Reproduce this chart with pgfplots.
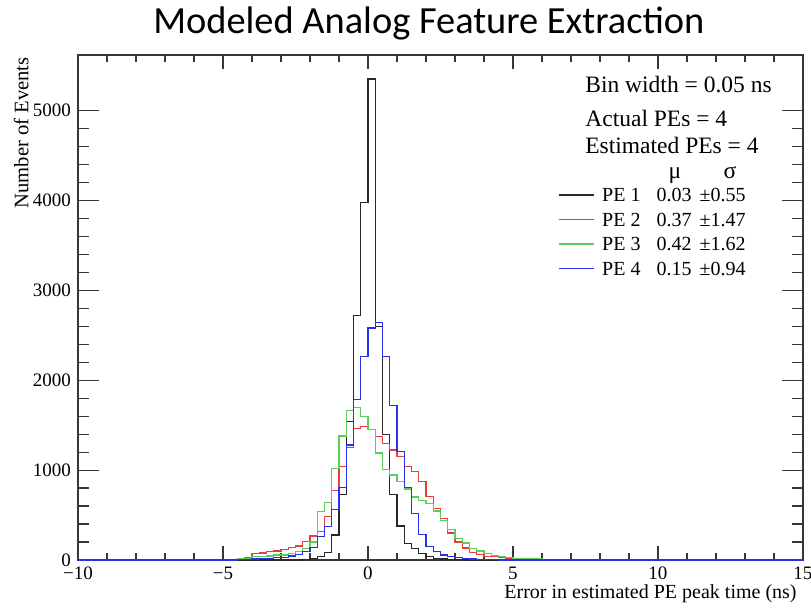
\documentclass[border=0pt]{standalone}
\usepackage{pgfplots}
\usepackage{pgfplotstable}
\pgfplotsset{compat=1.18}
\usepackage{fontspec}
\setmainfont{Liberation Serif}
\newfontfamily\titlefont{Carlito}
\definecolor{hblack}{RGB}{40,40,40}
\definecolor{hred}{RGB}{235,60,60}
\definecolor{hgreen}{RGB}{90,205,90}
\definecolor{hblue}{RGB}{40,50,235}
\definecolor{axgray}{RGB}{55,55,55}

% bins of 0.25 ns, x = left edge of bin
\pgfplotstableread{
x y
-10 0
-2.25 8
-2.0 20
-1.75 40
-1.5 85
-1.25 278
-1.0 730
-0.75 1540
-0.5 2717
-0.25 3975
0 5353
0.25 2598
0.5 1400
0.75 730
1.0 378
1.25 186
1.5 130
1.75 74
2.0 37
2.25 20
2.5 12
2.75 6
3.0 3
3.25 0
15 0
}\peone

\pgfplotstableread{
x y
-10 0
-4.75 8
-4.5 15
-4.25 30
-4.0 74
-3.75 78
-3.5 93
-3.25 100
-3.0 119
-2.75 137
-2.5 156
-2.25 204
-2.0 267
-1.75 316
-1.5 482
-1.25 772
-1.0 1039
-0.75 1250
-0.5 1460
-0.25 1485
0 1450
0.25 1375
0.5 1300
0.75 1225
1.0 1150
1.25 1040
1.5 983
1.75 872
2.0 710
2.25 575
2.5 460
2.75 300
3.0 200
3.25 135
3.5 85
3.75 60
4.0 42
4.25 38
4.5 25
4.75 20
5.0 12
5.25 8
5.5 5
5.75 3
6.0 0
15 0
}\petwo

\pgfplotstableread{
x y
-10 0
-4.75 8
-4.5 15
-4.25 20
-4.0 37
-3.75 37
-3.5 45
-3.25 56
-3.0 56
-2.75 74
-2.5 93
-2.25 130
-2.0 200
-1.75 540
-1.5 640
-1.25 1020
-1.0 1380
-0.75 1660
-0.5 1695
-0.25 1596
0 1450
0.25 1190
0.5 1010
0.75 945
1.0 870
1.25 790
1.5 700
1.75 660
2.0 630
2.25 545
2.5 440
2.75 340
3.0 240
3.25 190
3.5 130
3.75 100
4.0 70
4.25 50
4.5 35
4.75 25
5.0 18
5.25 15
5.5 12
5.75 10
6.0 8
6.25 6
6.5 0
15 0
}\pethree

\pgfplotstableread{
x y
-10 0
-4.5 5
-4.25 8
-4.0 12
-3.75 15
-3.5 20
-3.25 25
-3.0 30
-2.75 45
-2.5 63
-2.25 93
-2.0 137
-1.75 260
-1.5 371
-1.25 564
-1.0 810
-0.75 1280
-0.5 1789
-0.25 2264
0 2580
0.25 2643
0.5 2264
0.75 1720
1.0 1210
1.25 809
1.5 520
1.75 280
2.0 150
2.25 93
2.5 56
2.75 37
3.0 26
3.25 16
3.5 10
3.75 6
4.0 3
4.5 0
15 0
}\pefour

\begin{document}
\begin{tikzpicture}
\begin{axis}[
  at={(0pt,0pt)}, anchor=south west,
  scale only axis, width=362.5pt, height=252.5pt,
  xmin=-10, xmax=15, ymin=0, ymax=5620,
  clip=false,
  xtick={-10,-5,0,5,10,15},
  xticklabels={−10,−5,0,5,10,15},
  ytick={0,1000,2000,3000,4000,5000},
  yticklabels={0,1000,2000,3000,4000,5000},
  minor x tick num=4, minor y tick num=4,
  tick align=inside,
  major x tick style={/pgfplots/major tick length=7pt},
  minor x tick style={/pgfplots/minor tick length=3.5pt},
  major y tick style={/pgfplots/major tick length=10.5pt},
  minor y tick style={/pgfplots/minor tick length=5.5pt},
  axis line style={axgray, line width=0.7pt},
  every tick/.style={axgray, line width=0.6pt},
  tick label style={font=\fontsize{9.5}{11}\selectfont},
  title={\titlefont Modeled Analog Feature Extraction},
  every axis title/.style={at={(axis description cs:0.484,1.0416)}, anchor=base, inner sep=0pt, font=\fontsize{19.2}{22}\selectfont},
  xlabel={Error in estimated PE peak time (ns)},
  every axis x label/.style={at={(axis description cs:0.9917,-0.0772)}, anchor=base east, inner sep=0pt, font=\fontsize{10}{12}\selectfont},
  ylabel={Number of Events},
  every axis y label/.style={at={(axis description cs:-0.0686,0.996)}, rotate=90, anchor=base east, inner sep=0pt, font=\fontsize{10.3}{12}\selectfont},
  legend style={draw=none, fill=none, at={(axis description cs:0.662,0.7366)}, anchor=north west,
    font=\fontsize{10}{12}\selectfont, inner sep=0pt, outer sep=0pt, row sep=5.25pt, column sep=4pt,
    nodes={inner sep=0pt, text height=7pt, text depth=0pt}},
  legend cell align=left,
  legend image code/.code={\draw[#1] (0pt,0pt) -- (17.5pt,0pt);},
]
\addplot[const plot mark left, hblack, line width=0.65pt] table {\peone};
\addlegendentry{\makebox[27.15pt][l]{PE 1}\makebox[21.5pt][l]{0.03}±0.55}
\addplot[const plot mark left, hred, line width=0.65pt] table {\petwo};
\addlegendentry{\makebox[27.15pt][l]{PE 2}\makebox[21.5pt][l]{0.37}±1.47}
\addplot[const plot mark left, hgreen, line width=0.65pt] table {\pethree};
\addlegendentry{\makebox[27.15pt][l]{PE 3}\makebox[21.5pt][l]{0.42}±1.62}
\addplot[const plot mark left, hblue, line width=0.65pt] table {\pefour};
\addlegendentry{\makebox[27.15pt][l]{PE 4}\makebox[21.5pt][l]{0.15}±0.94}

\node[anchor=base west, inner sep=0pt, font=\fontsize{11.75}{14}\selectfont] at (axis description cs:0.6993,0.926) {Bin width = 0.05 ns};
\node[anchor=base west, inner sep=0pt, font=\fontsize{11.75}{14}\selectfont] at (axis description cs:0.6993,0.858) {Actual PEs = 4};
\node[anchor=base west, inner sep=0pt, font=\fontsize{11.75}{14}\selectfont] at (axis description cs:0.6993,0.805) {Estimated PEs = 4};
\node[anchor=base, inner sep=0pt, font=\fontsize{11.75}{14}\selectfont] at (axis description cs:0.8234,0.756) {μ};
\node[anchor=base, inner sep=0pt, font=\fontsize{11.75}{14}\selectfont] at (axis description cs:0.8993,0.756) {σ};
\end{axis}
\pgfresetboundingbox
\path[use as bounding box] (-39pt,-24pt) rectangle (366.5pt,280pt);
\end{tikzpicture}
\end{document}
